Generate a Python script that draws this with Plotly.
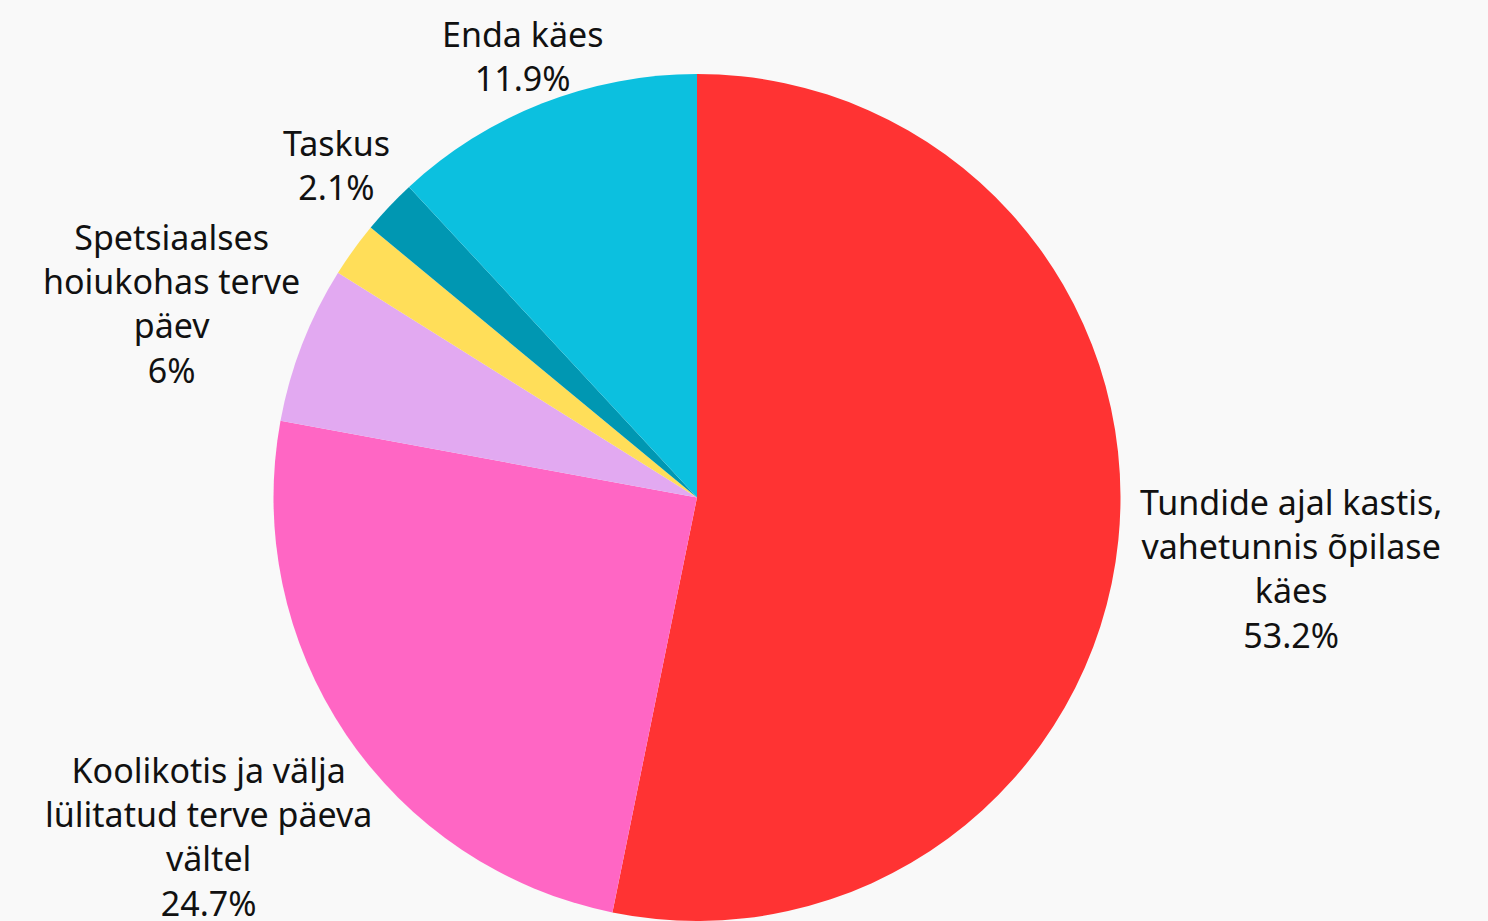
import math
import plotly.graph_objects as go

labels = [
    "Tundide ajal kastis,<br>vahetunnis õpilase<br>käes",
    "Koolikotis ja välja<br>lülitatud terve päeva<br>vältel",
    "Spetsiaalses<br>hoiukohas terve<br>päev",
    "Muu",
    "Taskus",
    "Enda käes",
]
values = [53.2, 24.7, 6.0, 2.1, 2.1, 11.9]
show_label = [True, True, True, False, True, True]
colors = ["#FF3333", "#FF66C4", "#E2A9F1", "#FFDE59", "#0097B2", "#0CC0DF"]

# layout geometry (pixels)
W, H = 1488, 921
M = dict(l=0, r=94, t=74, b=0)
FS = 34
CHAR_W = 0.485 * FS
LINE_H = 1.3 * FS
GAP = 8
TEXT_DROP = 11

pw, ph = W - M["l"] - M["r"], H - M["t"] - M["b"]
cx, cy = M["l"] + pw / 2, M["t"] + ph / 2
R = min(pw, ph) / 2

fig = go.Figure(go.Pie(
    labels=labels,
    values=values,
    textinfo="none",
    sort=False,
    direction="clockwise",
    rotation=0,
    marker=dict(colors=colors, line=dict(width=0)),
    showlegend=False,
    hoverinfo="skip",
    domain=dict(x=[0, 1], y=[0, 1]),
))

total = sum(values)
cum = 0.0
annotations = []
for lab, v, s in zip(labels, values, show_label):
    mid = (cum + v / 2) / total * 2 * math.pi
    cum += v
    if not s:
        continue
    txt = f"{lab}<br>{v:g}%"
    lines = txt.split("<br>")
    hw = max(len(t) for t in lines) * CHAR_W / 2
    hh = len(lines) * LINE_H / 2
    dx, dy = math.sin(mid), -math.cos(mid)
    ex = min(hw / abs(dx) if abs(dx) > 1e-6 else 1e9,
             hh / abs(dy) if abs(dy) > 1e-6 else 1e9)
    D = R + GAP + ex
    px, py = cx + dx * D, cy + dy * D
    annotations.append(dict(
        x=(px - M["l"]) / pw,
        y=(H - M["b"] - py) / ph,
        xref="paper", yref="paper",
        text=txt,
        showarrow=False,
        xanchor="center", yanchor="middle",
        yshift=-TEXT_DROP * abs(dx),
        align="center",
        font=dict(family="Noto Sans", size=FS, color="#111111"),
    ))

fig.update_layout(
    width=W,
    height=H,
    margin=M,
    paper_bgcolor="#F9F9F9",
    plot_bgcolor="#F9F9F9",
    annotations=annotations,
)

fig.write_html(
    "out.html",
    config={"displayModeBar": False},
    post_script="document.body.style.margin='0';document.body.style.background='#F9F9F9';document.body.style.overflow='hidden';",
)
